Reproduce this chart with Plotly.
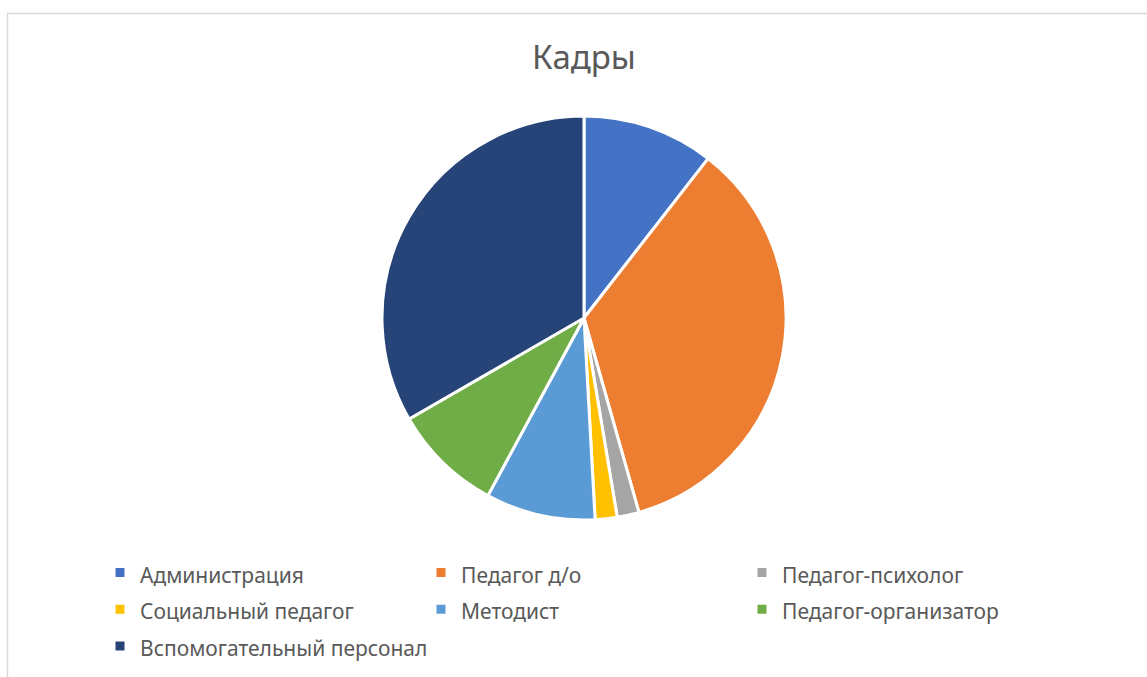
import plotly.graph_objects as go

labels = ["Администрация", "Педагог д/о", "Педагог-психолог", "Социальный педагог",
          "Методист", "Педагог-организатор", "Вспомогательный персонал"]
values = [6, 20, 1, 1, 5, 5, 19]
colors = ["#4472C4", "#ED7D31", "#A5A5A5", "#FFC000", "#5B9BD5", "#70AD47", "#264478"]

W, H = 1147, 677
cx, cy, r = 584, 318, 202

# legend rows use a taller line box (legend font 26) while text renders at 21px
shown_labels = [f"<span style='font-size:21px'>{l}</span>" for l in labels]

fig = go.Figure(go.Pie(
    labels=shown_labels, values=values, sort=False, direction="clockwise", rotation=0,
    marker=dict(colors=colors, line=dict(color="white", width=3)),
    textinfo="none", hoverinfo="label+value+percent",
    domain=dict(x=[(cx - r) / W, (cx + r) / W], y=[(H - cy - r) / H, (H - cy + r) / H]),
))

fig.update_layout(
    width=W, height=H, autosize=False,
    margin=dict(l=0, r=0, t=0, b=0),
    paper_bgcolor="white", plot_bgcolor="white",
    font=dict(family="Noto Sans, Open Sans, sans-serif", color="#595959"),
    title=dict(text="Кадры", x=cx / W, xanchor="center", y=1 - 57 / H, yanchor="middle",
               font=dict(size=33, color="#595959")),
    legend=dict(orientation="h", x=100 / W, xanchor="left", y=1 - 549 / H, yanchor="top",
                entrywidth=276, entrywidthmode="pixels",
                font=dict(size=26, color="#595959"), traceorder="normal"),
    shapes=[dict(type="rect", xref="paper", yref="paper",
                 x0=7.5 / W, x1=1.01, y0=-0.01, y1=1 - 13.5 / H,
                 line=dict(color="#D9D9D9", width=1.5), fillcolor="rgba(0,0,0,0)", layer="below")],
)

fig.write_html("out.html")
